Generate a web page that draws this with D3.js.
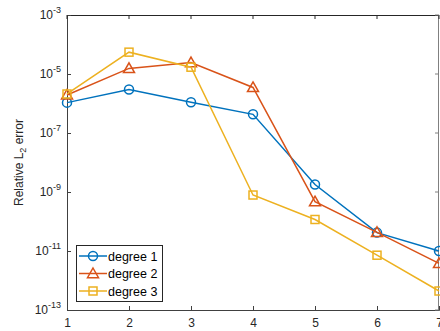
<!DOCTYPE html>
<html>
<head>
<meta charset="utf-8">
<script src="https://cdn.jsdelivr.net/npm/d3@7"></script>
<style>
  body { margin: 0; background: #fff; }
  text { font-family: "Liberation Sans", Arial, sans-serif; }
</style>
</head>
<body>
<div id="chart"></div>
<script>
const svgWidth = 440;
const svgHeight = 331;

const margin = { top: 15, right: 1, bottom: 21, left: 67 };
const width = svgWidth - margin.left - margin.right;
const height = svgHeight - margin.top - margin.bottom;

// data
const xValues = [1, 2, 3, 4, 5, 6, 7];
const degree1 = [1.07e-6, 3.0e-6, 1.1e-6, 4.3e-7, 1.8e-9, 4.2e-11, 1.0e-11];
const degree2 = [1.95e-6, 1.55e-5, 2.45e-5, 3.5e-6, 4.7e-10, 4.3e-11, 3.8e-12];
const degree3 = [2.1e-6, 5.5e-5, 1.7e-5, 7.9e-10, 1.17e-10, 7.2e-12, 4.4e-13];
const seriesNames = ["degree 1", "degree 2", "degree 3"];
const yTickExps = [-3, -5, -7, -9, -11, -13];

const colors = ["#0072BD", "#D95319", "#EDB120"];
const markers = ["circle", "triangle", "square"];

const svg = d3.select("#chart")
  .append("svg")
  .attr("width", svgWidth)
  .attr("height", svgHeight);

const chartGroup = svg.append("g")
  .attr("transform", `translate(${margin.left}, ${margin.top})`);

const xScale = d3.scaleLinear().domain([1, 7]).range([0, width]);
const yScale = d3.scaleLog().domain([1e-13, 1e-3]).range([height, 0]);

// box: top black, right gray
chartGroup.append("line")
  .attr("x1", 0).attr("x2", width).attr("y1", 0.5).attr("y2", 0.5)
  .attr("stroke", "#262626");
chartGroup.append("line")
  .attr("x1", width - 0.5).attr("x2", width - 0.5).attr("y1", 0).attr("y2", height)
  .attr("stroke", "#808080");

// bottom axis
const bottomAxis = d3.axisBottom(xScale)
  .tickValues(xValues)
  .tickSize(-4)
  .tickPadding(8)
  .tickFormat(d3.format("d"));
const xAxis = chartGroup.append("g")
  .attr("transform", `translate(0, ${height})`)
  .call(bottomAxis);
xAxis.select(".domain").attr("stroke", "#404040");
xAxis.selectAll(".tick line").attr("stroke", "#404040");
xAxis.selectAll("text").attr("font-size", 12).attr("fill", "#262626")
  .attr("font-family", "Liberation Sans, Arial, sans-serif");

// left axis with 10^n labels
const leftAxis = d3.axisLeft(yScale)
  .tickValues(yTickExps.map(e => Math.pow(10, e)))
  .tickSize(-4)
  .tickFormat("");
const yAxis = chartGroup.append("g").call(leftAxis);
yAxis.select(".domain").attr("stroke", "#404040");
yAxis.selectAll(".tick line").attr("stroke", "#404040");
// right ticks
yTickExps.forEach(e => {
  chartGroup.append("line")
    .attr("x1", width - 4).attr("x2", width)
    .attr("y1", yScale(Math.pow(10, e))).attr("y2", yScale(Math.pow(10, e)))
    .attr("stroke", "#808080");
});
// top ticks
xValues.forEach(v => {
  chartGroup.append("line")
    .attr("x1", xScale(v)).attr("x2", xScale(v))
    .attr("y1", 0).attr("y2", 4)
    .attr("stroke", "#262626");
});

yTickExps.forEach(e => {
  const t = chartGroup.append("text")
    .attr("x", -6)
    .attr("y", yScale(Math.pow(10, e)) + 4)
    .attr("text-anchor", "end")
    .attr("fill", "#262626")
    .attr("font-size", 12);
  t.append("tspan").text("10");
  t.append("tspan").attr("dy", -6).attr("font-size", 9).text(e);
});

// y label
const yLabel = chartGroup.append("text")
  .attr("transform", "rotate(-90)")
  .attr("x", -height / 2)
  .attr("y", -44)
  .attr("text-anchor", "middle")
  .attr("fill", "#262626")
  .attr("font-size", 12);
yLabel.append("tspan").text("Relative L");
yLabel.append("tspan").attr("dy", 3).attr("font-size", 9).text("2");
yLabel.append("tspan").attr("dy", -3).text(" error");

function drawMarker(g, type, x, y, color) {
  if (type === "circle") {
    g.append("circle").attr("cx", x).attr("cy", y).attr("r", 4.5)
      .attr("fill", "none").attr("stroke", color).attr("stroke-width", 1.5);
  } else if (type === "triangle") {
    const s = 5.5;
    g.append("path")
      .attr("d", `M${x},${y - s}L${x + s},${y + s * 0.75}L${x - s},${y + s * 0.75}Z`)
      .attr("fill", "none").attr("stroke", color).attr("stroke-width", 1.5);
  } else {
    const s = 4;
    g.append("rect").attr("x", x - s).attr("y", y - s).attr("width", 2 * s).attr("height", 2 * s)
      .attr("fill", "none").attr("stroke", color).attr("stroke-width", 1.5);
  }
}

const line = d3.line()
  .x(d => xScale(d.x))
  .y(d => yScale(d.y));

[degree1, degree2, degree3].forEach((vals, i) => {
  const pts = vals.map((v, j) => ({ x: xValues[j], y: v }));
  chartGroup.append("path")
    .datum(pts)
    .attr("d", line)
    .attr("fill", "none")
    .attr("stroke", colors[i])
    .attr("stroke-width", 1.5);
  pts.forEach(p => drawMarker(chartGroup, markers[i], xScale(p.x), yScale(p.y), colors[i]));
});

// legend
const legend = svg.append("g").attr("transform", "translate(76, 245)");
legend.append("rect")
  .attr("x", 0.5).attr("y", 0.5)
  .attr("width", 86).attr("height", 56)
  .attr("fill", "#fff")
  .attr("stroke", "#262626")
  .attr("stroke-width", 1);
seriesNames.forEach((name, i) => {
  const y = 11 + i * 17.5;
  legend.append("line")
    .attr("x1", 3).attr("x2", 31).attr("y1", y).attr("y2", y)
    .attr("stroke", colors[i]).attr("stroke-width", 1.5);
  drawMarker(legend, markers[i], 17, y, colors[i]);
  legend.append("text")
    .attr("x", 32).attr("y", y + 4.5)
    .attr("font-size", 12.5)
    .attr("fill", "#000")
    .text(name);
});
</script>
</body>
</html>
